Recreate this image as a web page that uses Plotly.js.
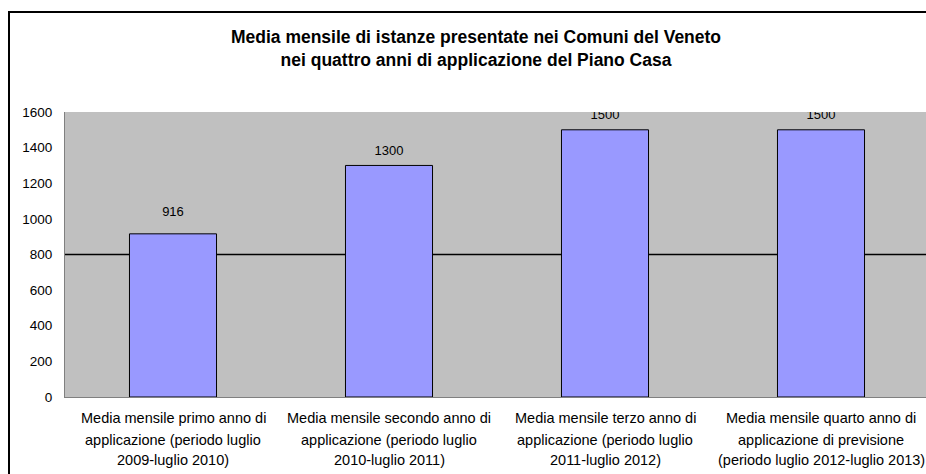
<!DOCTYPE html>
<html>
<head>
<meta charset="utf-8">
<script src="https://cdn.plot.ly/plotly-3.0.1.min.js"></script>
<style>
html,body{margin:0;padding:0;background:#fff;overflow:hidden;width:926px;height:474px;position:relative;}
#chart{position:absolute;left:0;top:0;}
#frame{position:absolute;left:8px;top:11px;width:940px;height:480px;border-left:2px solid #000;border-top:2px solid #000;pointer-events:none;}
</style>
</head>
<body>
<div id="chart"></div>
<div id="frame"></div>
<script>
const categories = [
  "Media mensile primo anno di applicazione (periodo luglio 2009-luglio 2010)",
  "Media mensile secondo anno di applicazione (periodo luglio 2010-luglio 2011)",
  "Media mensile terzo anno di applicazione (periodo luglio 2011-luglio 2012)",
  "Media mensile quarto anno di applicazione di previsione (periodo luglio 2012-luglio 2013)"
];
const labelLines = [
  ["Media mensile primo anno di", "applicazione (periodo luglio", "2009-luglio 2010)"],
  ["Media mensile secondo anno di", "applicazione (periodo luglio", "2010-luglio 2011)"],
  ["Media mensile terzo anno di", "applicazione (periodo luglio", "2011-luglio 2012)"],
  ["Media mensile quarto anno di", "applicazione di previsione", "(periodo luglio 2012-luglio 2013)"]
];
const values = [916, 1300, 1500, 1500];
const yTicks = [0, 200, 400, 600, 800, 1000, 1200, 1400, 1600];
const titleText = "Media mensile di istanze presentate nei Comuni del Veneto<br>nei quattro anni di applicazione del Piano Casa";

const font = "Liberation Sans, Arial, sans-serif";

const annotations = [];
const lineShifts = [-21, -43, -63];
labelLines.forEach((lines, i) => {
  lines.forEach((t, j) => {
    annotations.push({
      x: categories[i], xref: 'x', y: 0, yref: 'paper',
      text: t, showarrow: false, xanchor: 'center', yanchor: 'middle',
      yshift: lineShifts[j], font: {family: font, size: 14.5, color: '#000'}
    });
  });
});

const traces = [
  {
    type: 'bar', x: categories, y: values,
    marker: {color: '#9999FF', line: {color: '#000', width: 1}},
    hoverinfo: 'skip'
  },
  {
    type: 'scatter', mode: 'markers+text', x: categories, y: values,
    text: values.map(String), textposition: 'top center',
    textfont: {family: font, size: 13, color: '#000'},
    marker: {size: [22, 10, 10, 10], opacity: 0},
    cliponaxis: true, hoverinfo: 'skip', showlegend: false
  }
];

const layout = {
  width: 930, height: 474,
  margin: {l: 65, r: 1, t: 112, b: 77},
  paper_bgcolor: '#fff', plot_bgcolor: '#C0C0C0',
  showlegend: false, bargap: 0.597,
  title: {text: titleText, font: {family: font, size: 17.5, color: '#000', weight: 'bold'},
          x: 476/930, xanchor: 'center', y: 1 - 43/474, yanchor: 'top'},
  xaxis: {type: 'category', showticklabels: false, ticks: '', showgrid: false,
          showline: true, linecolor: '#808080', linewidth: 1, zeroline: false, fixedrange: true},
  yaxis: {range: [0, 1600], tickvals: yTicks, ticktext: yTicks.map(String),
          showgrid: false, zeroline: false, showline: true, linecolor: '#808080', linewidth: 1,
          ticks: '', ticklabelstandoff: 9, tickfont: {family: font, size: 13.5, color: '#000'}, fixedrange: true},
  shapes: [{type: 'line', xref: 'paper', x0: 0, x1: 1, yref: 'y', y0: 800, y1: 800,
            layer: 'below', line: {color: '#000', width: 1.3}}],
  annotations: annotations
};

Plotly.newPlot('chart', traces, layout, {staticPlot: true, displayModeBar: false});
</script>
</body>
</html>
